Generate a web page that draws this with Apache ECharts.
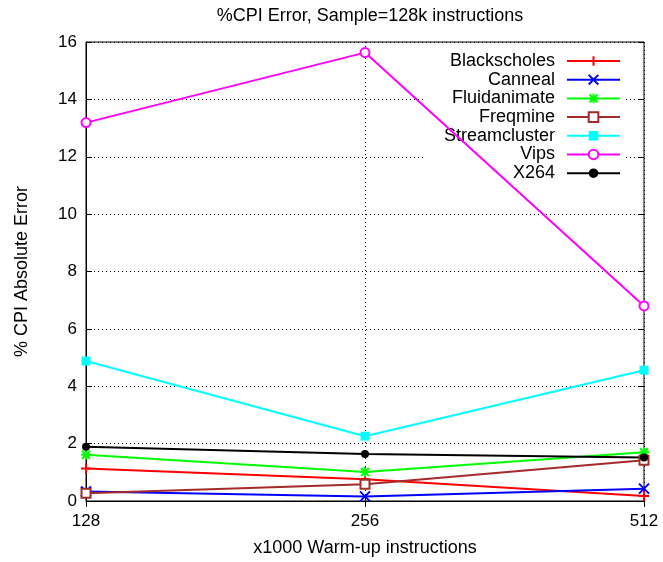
<!DOCTYPE html>
<html><head><meta charset="utf-8">
<script src="https://cdn.jsdelivr.net/npm/echarts@6/dist/echarts.min.js"></script>
<style>html,body{margin:0;padding:0;background:#fff}#c{width:663px;height:562px}</style>
</head><body><div id="c"></div>
<script>
var categories = ['128', '256', '512'];
var seriesNames = ['Blackscholes', 'Canneal', 'Fluidanimate', 'Freqmine', 'Streamcluster', 'Vips', 'X264'];
var blackscholes = [1.13, 0.76, 0.17];
var canneal = [0.33, 0.16, 0.43];
var fluidanimate = [1.61, 1.01, 1.70];
var freqmine = [0.27, 0.58, 1.42];
var streamcluster = [4.88, 2.26, 4.56];
var vips = [13.19, 15.63, 6.80];
var x264 = [1.89, 1.64, 1.52];
var yTicks = [0, 2, 4, 6, 8, 10, 12, 14, 16];

var values = [blackscholes, canneal, fluidanimate, freqmine, streamcluster, vips, x264];
var colors = ['#ff0000', '#0000ff', '#00ff00', '#a52a2a', '#00ffff', '#ff00ff', '#000000'];
var plus = 'path://M0,5L10,5M5,0L5,10';
var cross = 'path://M0,0L10,10M0,10L10,0';
var star = 'path://M0,5L10,5M5,0L5,10M1,1L9,9M1,9L9,1';
var symbols = [plus, cross, star, 'rect', 'rect', 'circle', 'circle'];
var sizes = [10, 10, 10, 9, 9, 9, 8];
var FONT = 'Liberation Sans, Arial, sans-serif';

var series = seriesNames.map(function (n, i) {
  var c = colors[i];
  var item;
  if (i < 3) item = { color: c, borderColor: c, borderWidth: 2 };
  else if (i === 3 || i === 5) item = { color: '#ffffff', borderColor: c, borderWidth: 2 };
  else item = { color: c, borderColor: c, borderWidth: 0 };
  return {
    name: n, type: 'line', data: values[i], z: 3,
    symbol: symbols[i], symbolSize: sizes[i], showAllSymbol: true,
    lineStyle: { color: c, width: 2 },
    itemStyle: item,
    emphasis: { disabled: true },
    animation: false
  };
});

var chart = echarts.init(document.getElementById('c'), null, { renderer: 'canvas' });
chart.setOption({
  animation: false,
  backgroundColor: '#fff',
  title: {
    text: '%CPI Error, Sample=128k instructions',
    left: 365, top: 2, textAlign: 'center',
    textStyle: { fontFamily: FONT, fontSize: 18, fontWeight: 'normal', color: '#000' }
  },
  grid: { left: 86, right: 19, top: 42, bottom: 61, show: true, borderColor: '#000', borderWidth: 1, backgroundColor: 'transparent' },
  legend: {
    orient: 'vertical', align: 'right', right: 38, top: 48, z: 1,
    padding: [4, 4, 4, 20], backgroundColor: '#fff',
    itemWidth: 53, itemHeight: 12, itemGap: 0.7,
    textStyle: { fontFamily: FONT, fontSize: 18, lineHeight: 18, color: '#000', padding: [0, 7, 0, 0] },
    data: seriesNames
  },
  xAxis: [{
    type: 'category', data: categories, boundaryGap: false,
    name: 'x1000 Warm-up instructions', nameLocation: 'middle', nameGap: 38,
    nameTextStyle: { fontFamily: FONT, fontSize: 18, color: '#000' },
    axisLine: { show: true, lineStyle: { color: '#000', width: 1 } },
    axisTick: { show: true, inside: true, length: 6, lineStyle: { color: '#000' } },
    axisLabel: { fontFamily: FONT, fontSize: 17, color: '#000', margin: 12 },
    splitLine: { show: true, lineStyle: { color: '#000', type: [1, 3], width: 1 } }
  }, {
    type: 'category', data: categories, boundaryGap: false, position: 'top',
    axisLine: { show: false }, axisLabel: { show: false },
    axisTick: { show: true, inside: true, length: 6, lineStyle: { color: '#000' } },
    splitLine: { show: false }
  }],
  yAxis: [{
    type: 'value', min: yTicks[0], max: yTicks[yTicks.length - 1], interval: 2,
    name: '% CPI Absolute Error', nameLocation: 'middle', nameGap: 55,
    nameTextStyle: { fontFamily: FONT, fontSize: 18, color: '#000' },
    axisLine: { show: true, lineStyle: { color: '#000', width: 1 } },
    axisTick: { show: true, inside: true, length: 6, lineStyle: { color: '#000' } },
    axisLabel: { fontFamily: FONT, fontSize: 17, color: '#000', margin: 9 },
    splitLine: { show: true, lineStyle: { color: '#000', type: [1, 3], width: 1 } }
  }, {
    type: 'value', min: yTicks[0], max: yTicks[yTicks.length - 1], interval: 2, position: 'right',
    axisLine: { show: false }, axisLabel: { show: false },
    axisTick: { show: true, inside: true, length: 6, lineStyle: { color: '#000' } },
    splitLine: { show: false }
  }],
  series: series
});
</script></body></html>
